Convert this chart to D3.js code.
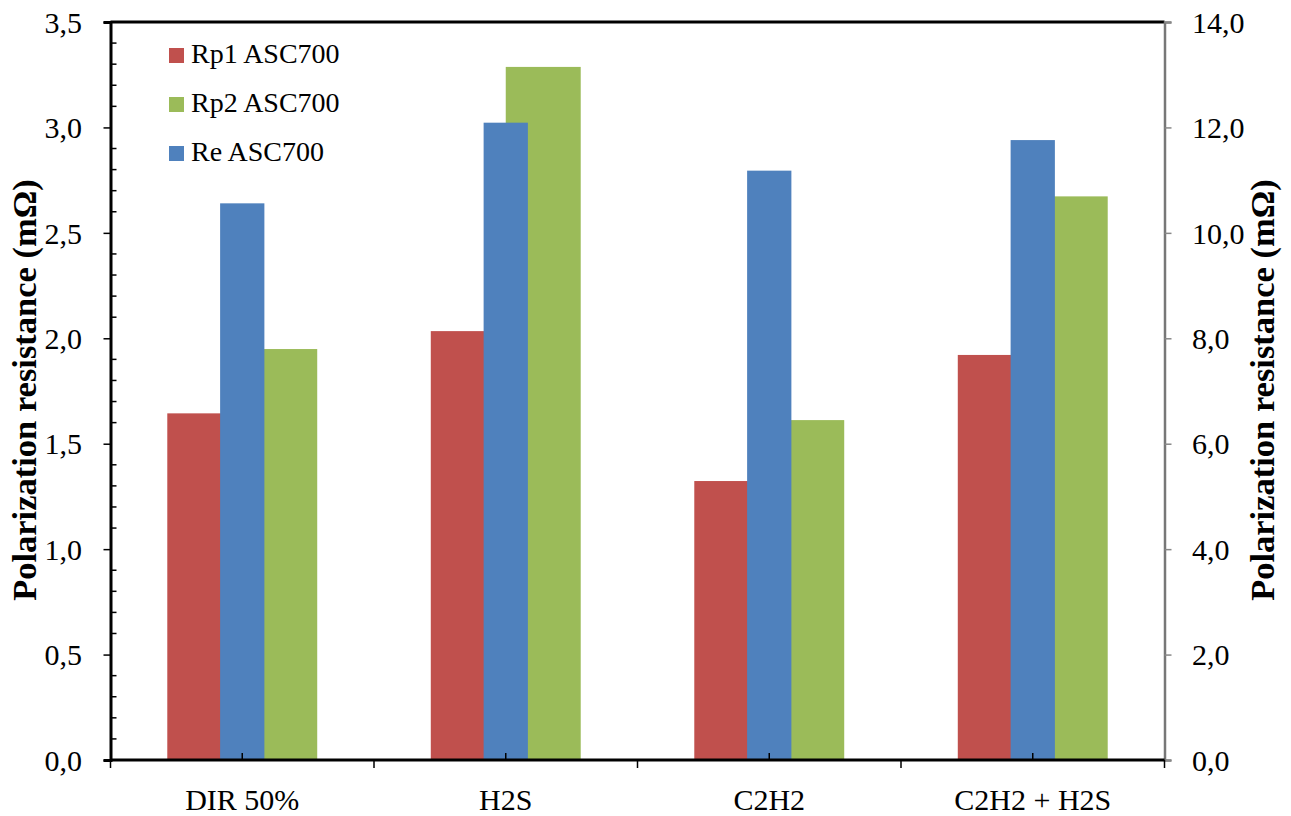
<!DOCTYPE html>
<html><head><meta charset="utf-8">
<script src="https://cdn.jsdelivr.net/npm/d3@7"></script>
<style>body{margin:0;background:#fff}</style>
</head><body>
<svg id="c" width="1291" height="816"></svg>
<script>
const categories = ["DIR 50%", "H2S", "C2H2", "C2H2 + H2S"];
const rp1 = [1.644, 2.034, 1.323, 1.921];
const rp2 = [1.949, 3.287, 1.612, 2.673];
const re = [10.56, 12.09, 11.18, 11.76];
const seriesNames = ["Rp1 ASC700", "Rp2 ASC700", "Re ASC700"];
const colors = ["#C0504D", "#9BBB59", "#4F81BD"];
const leftTicks = [0, 0.5, 1, 1.5, 2, 2.5, 3, 3.5];
const rightTicks = [0, 2, 4, 6, 8, 10, 12, 14];
const yTitle = "Polarization resistance (mΩ)";

const FF = "Liberation Serif";
const svg = d3.select("#c");
const L = 110.5, R = 1164.5, T = 22, B = 760;

const x = d3.scaleBand().domain(categories).range([L, R]).padding(0);
const yL = d3.scaleLinear().domain([0, 3.5]).range([B, T]);
const yR = d3.scaleLinear().domain([0, 14]).range([B, T]);
const bw = x.bandwidth();
const primW = bw * 0.2845;
const secW = bw * 0.168;

const g = svg.append("g");
g.selectAll(".r1").data(categories).join("rect")
  .attr("x", (d) => x(d) + bw / 2 - primW).attr("width", primW)
  .attr("y", (d, i) => yL(rp1[i])).attr("height", (d, i) => B - yL(rp1[i]))
  .attr("fill", colors[0]);
g.selectAll(".r2").data(categories).join("rect")
  .attr("x", (d) => x(d) + bw / 2).attr("width", primW)
  .attr("y", (d, i) => yL(rp2[i])).attr("height", (d, i) => B - yL(rp2[i]))
  .attr("fill", colors[1]);
g.selectAll(".re").data(categories).join("rect")
  .attr("x", (d) => x(d) + bw / 2 - secW / 2).attr("width", secW)
  .attr("y", (d, i) => yR(re[i])).attr("height", (d, i) => B - yR(re[i]))
  .attr("fill", colors[2]);

svg.append("line").attr("x1", L).attr("x2", R).attr("y1", T).attr("y2", T)
  .attr("stroke", "#000").attr("stroke-width", 3);

const fmt = d => d3.format(".1f")(d).replace(".", ",");
function styleAxisText(sel, size) {
  sel.attr("font-family", FF).style("font-family", '"Liberation Serif"')
    .attr("font-size", size).attr("fill", "#000");
}
const la = svg.append("g").attr("transform", `translate(${L},0)`)
  .call(d3.axisLeft(yL).tickValues(leftTicks).tickSize(7).tickFormat(fmt));
la.attr("font-family", FF);
la.select(".domain").attr("stroke", "#000").attr("stroke-width", 3);
la.selectAll(".tick line").attr("stroke", "#000").attr("stroke-width", 1.5);
la.selectAll("text").call(styleAxisText, 30).attr("x", -28.5).attr("dy", "0.34em");
const minor = d3.range(0, 35).map(i => i / 10).filter(v => Math.abs(v * 2 - Math.round(v * 2)) > 1e-6);
svg.append("g").selectAll("line").data(minor).join("line")
  .attr("x1", L).attr("x2", L + 6).attr("y1", d => yL(d)).attr("y2", d => yL(d))
  .attr("stroke", "#000").attr("stroke-width", 1.5);

const ra = svg.append("g").attr("transform", `translate(${R},0)`)
  .call(d3.axisRight(yR).tickValues(rightTicks).tickSize(7).tickFormat(fmt));
ra.attr("font-family", FF);
ra.select(".domain").attr("stroke", "#777").attr("stroke-width", 2.5);
ra.selectAll(".tick line").attr("stroke", "#888").attr("stroke-width", 1.5);
ra.selectAll("text").call(styleAxisText, 30).attr("x", 27.5).attr("dy", "0.34em");

const ba = svg.append("g").attr("transform", `translate(0,${B})`)
  .call(d3.axisBottom(x).tickSize(0));
ba.attr("font-family", FF);
ba.select(".domain").remove();
ba.selectAll("text").call(styleAxisText, 30).attr("dy", 0).attr("y", 50);
svg.append("line").attr("x1", L).attr("x2", R).attr("y1", B).attr("y2", B).attr("stroke", "#000").attr("stroke-width", 3);
const bounds = categories.map(c => x(c)).concat([R]);
svg.append("g").selectAll("line").data(bounds).join("line")
  .attr("x1", d => d).attr("x2", d => d).attr("y1", B).attr("y2", B + 8)
  .attr("stroke", "#000").attr("stroke-width", 1.5);
svg.append("g").selectAll("line").data(categories).join("line")
  .attr("x1", d => x(d) + bw / 2).attr("x2", d => x(d) + bw / 2).attr("y1", B).attr("y2", B - 7)
  .attr("stroke", "#000").attr("stroke-width", 1.5);

[36, 1274].forEach(tx => {
  svg.append("text").attr("transform", `translate(${tx},390) rotate(-90)`)
    .attr("text-anchor", "middle").attr("font-weight", "bold")
    .attr("font-family", FF).style("font-family", '"Liberation Serif"')
    .attr("font-size", 34.5).attr("fill", "#000").text(yTitle);
});

const leg = svg.append("g");
seriesNames.forEach((n, i) => {
  const base = 63 + i * 49;
  leg.append("rect").attr("x", 169).attr("y", base - 15).attr("width", 15).attr("height", 15).attr("fill", colors[i]);
  leg.append("text").attr("x", 191).attr("y", base)
    .attr("font-family", FF).style("font-family", '"Liberation Serif"')
    .attr("font-size", 28).attr("fill", "#000").text(n);
});
</script>
</body></html>
